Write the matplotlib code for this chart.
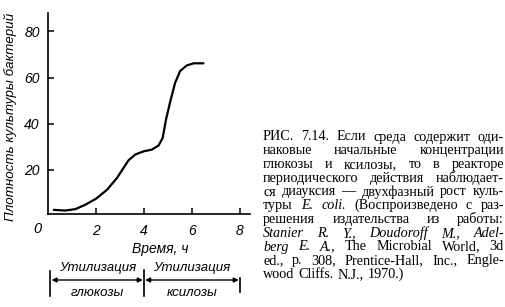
import numpy as np
import matplotlib
matplotlib.use("Agg")
import matplotlib.pyplot as plt
from matplotlib.transforms import blended_transform_factory

# growth curve (time, h ; density)
time_h = [0.24, 0.72, 1.14, 1.55, 2.0, 2.46, 2.875, 3.15, 3.36, 3.64, 4.0,
          4.33, 4.61, 4.78, 4.92, 5.10, 5.30, 5.51, 5.79, 6.07, 6.48]
density = [2.7, 2.4, 3.0, 4.9, 7.5, 11.4, 16.5, 20.9, 24.2, 26.7, 28.1,
           28.8, 30.6, 33.9, 41.9, 49.8, 57.8, 62.9, 65.3, 66.2, 66.2]

x_ticks = [2, 4, 6, 8]
y_ticks = [20, 40, 60, 80]

phase_bounds = [0.1, 4.0, 8.0]
phase_top = ["Утилизация", "Утилизация"]
phase_bottom = ["глюкозы", "ксилозы"]

# caption lines; words starting with * are italic
caption = [
    "РИС. 7.14. Если среда содержит оди-",
    "наковые начальные концентрации",
    "глюкозы и ксилозы, то в реакторе",
    "периодического действия наблюдает-",
    "ся диауксия — двухфазный рост куль-",
    "туры *E. *coli. (Воспроизведено с раз-",
    "решения издательства из работы:",
    "*Stanier *R. *Y., *Doudoroff *M., *Adel-",
    "*berg *E. *A., The Microbial World, 3d",
    "ed., p. 308, Prentice-Hall, Inc., Engle-",
    "wood Cliffs. N.J., 1970.)",
]

W, H = 505, 307
fig = plt.figure(figsize=(W / 100, H / 100), dpi=100)
fig.patch.set_facecolor("white")

ax = fig.add_axes([48 / W, 1 - 214 / H, (250 - 48) / W, (214 - 13) / H])
ax.plot(time_h, density, color="black", linewidth=1.6, solid_capstyle="round")
ax.set_xlim(0, 8.42)
ax.set_ylim(0.9, 88)
for s in ["top", "right"]:
    ax.spines[s].set_visible(False)
for s in ["left", "bottom"]:
    ax.spines[s].set_linewidth(1.2)

sans = ["Liberation Sans", "DejaVu Sans"]
ax.set_xticks(x_ticks)
ax.set_yticks(y_ticks)
ax.set_xticklabels([str(v) for v in x_ticks], family=sans, style="italic", fontsize=10)
ax.set_yticklabels([str(v) for v in y_ticks], family=sans, style="italic", fontsize=10)
ax.tick_params(direction="in", length=4, width=1.1, pad=6)
ax.tick_params(axis="x", pad=7)
fig.text(37 / W, 1 - 229 / H, "0", family=sans, style="italic", fontsize=10.5,
         ha="center", va="center")

fig.text(10 / W, 1 - 221 / H, "Плотность культуры бактерий", rotation=90,
         family=sans, style="italic", fontsize=9.6, ha="center", va="bottom")
fig.text(160 / W, 1 - 249 / H, "Время, ч", family=sans, style="italic",
         fontsize=10, ha="center", va="center")

# phase brackets under the axis
tr = blended_transform_factory(ax.transData, fig.transFigure)
y_arrow = 1 - 280 / H
for i in range(2):
    x0, x1 = phase_bounds[i], phase_bounds[i + 1]
    ax.annotate("", xy=(x1 - 0.05, y_arrow), xytext=(x0 + 0.05, y_arrow),
                xycoords=tr, textcoords=tr, annotation_clip=False,
                arrowprops=dict(arrowstyle="<|-|>", color="black", lw=1.0,
                                mutation_scale=7, shrinkA=0, shrinkB=0))
    xm = (x0 + x1) / 2
    ax.text(xm, 1 - 268 / H, phase_top[i], transform=tr, family=sans,
            style="italic", fontsize=9.5, ha="center", va="center")
    ax.text(xm, 1 - 293 / H, phase_bottom[i], transform=tr, family=sans,
            style="italic", fontsize=9.5, ha="center", va="center")
for xb, (ya, yb) in zip(phase_bounds, [(271, 296), (270, 296), (278, 292)]):
    ax.plot([xb, xb], [1 - ya / H, 1 - yb / H], transform=tr, color="black",
            lw=1.2, clip_on=False)

# justified caption on the right
renderer = fig.canvas.get_renderer()
left, right = 263 / W, 504 / W
y0, dy = 137, 13.75
for k, line in enumerate(caption):
    words = line.split(" ")
    texts = []
    for w in words:
        it = w.startswith("*")
        t = fig.text(0, 1 - (y0 + k * dy) / H, w.lstrip("*"),
                     family=["Liberation Serif", "DejaVu Serif"],
                     style="italic" if it else "normal", fontsize=10.2,
                     ha="left", va="center")
        texts.append(t)
    widths = [t.get_window_extent(renderer).width / W for t in texts]
    if k == len(caption) - 1:
        gap = 4.0 / W
    else:
        gap = (right - left - sum(widths)) / max(len(words) - 1, 1)
    x = left
    for t, wd in zip(texts, widths):
        t.set_x(x)
        x += wd + gap

fig.savefig("out.png", dpi=100, facecolor="white")
